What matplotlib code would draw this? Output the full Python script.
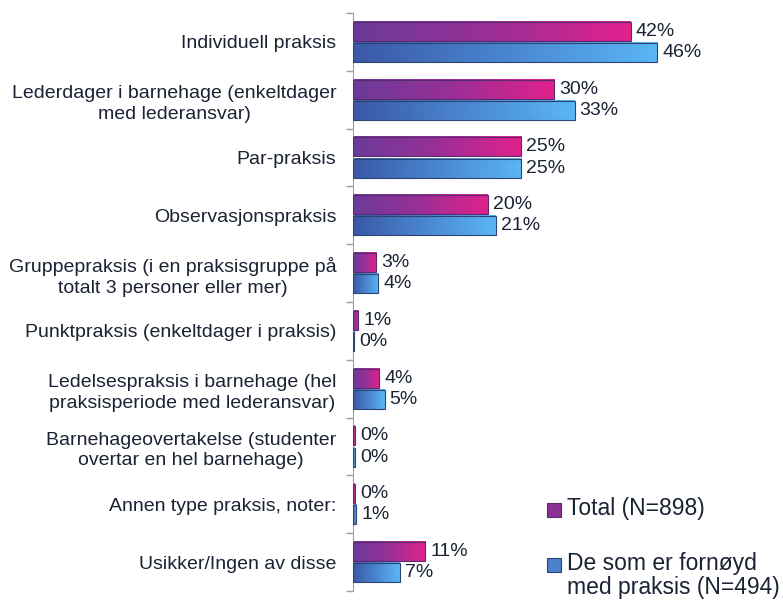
import numpy as np
import matplotlib.pyplot as plt
from matplotlib.colors import LinearSegmentedColormap
from matplotlib.patches import Rectangle

plt.rcParams['font.family'] = ['Liberation Sans', 'DejaVu Sans']

# kategorier (ovenfra og ned)
categories = [
    "Individuell praksis",
    "Lederdager i barnehage (enkeltdager\nmed lederansvar)",
    "Par-praksis",
    "Observasjonspraksis",
    "Gruppepraksis (i en praksisgruppe på\ntotalt 3 personer eller mer)",
    "Punktpraksis (enkeltdager i praksis)",
    "Ledelsespraksis i barnehage (hel\npraksisperiode med lederansvar)",
    "Barnehageovertakelse (studenter\novertar en hel barnehage)",
    "Annen type praksis, noter:",
    "Usikker/Ingen av disse",
]

# prosent, slik de står på etikettene
total_labels = [42, 30, 25, 20, 3, 1, 4, 0, 0, 11]
fornoyd_labels = [46, 33, 25, 21, 4, 0, 5, 0, 1, 7]

# stolpelengder lest av bildet (ikke avrundet)
total_vals = [42.0, 30.4, 25.4, 20.4, 3.5, 0.8, 4.0, 0.3, 0.3, 10.9]
fornoyd_vals = [46.0, 33.5, 25.4, 21.6, 3.8, 0.2, 4.8, 0.3, 0.5, 7.1]

legend_labels = ["Total (N=898)", "De som er fornøyd\nmed praksis (N=494)"]

pink_cmap = LinearSegmentedColormap.from_list("pink", ["#6a3b99", "#9a2f96", "#e2218c"])
blue_cmap = LinearSegmentedColormap.from_list("blue", ["#3a58a6", "#4a86d0", "#5ab6f4"])
text_color = "#1a2233"

fig = plt.figure(figsize=(7.83, 6.01), dpi=100)
ax = fig.add_axes([353 / 783, 1 - 591 / 601, 1 - 353 / 783, (591 - 13) / 601])

grad = np.linspace(0, 1, 256).reshape(1, -1)
bar_h = 0.33
gap = 0.035


def draw_bar(y0, y1, v, cmap, edge):
    ax.imshow(grad, extent=[0, v, y1, y0], aspect='auto', cmap=cmap,
              interpolation='bilinear', zorder=2)
    ax.add_patch(Rectangle((0, y0), v, y1 - y0, fill=False, edgecolor=edge,
                           linewidth=0.8, zorder=3))


for i in range(len(categories)):
    c = i + 0.5
    # Total øverst, fornøyde under
    y0 = c - bar_h - gap / 2
    draw_bar(y0, y0 + bar_h, total_vals[i], pink_cmap, "#5a2a70")
    ax.text(total_vals[i] + 0.75, y0 + bar_h / 2, f"{total_labels[i]}%",
            va='center', ha='left', fontsize=14, color=text_color)
    y0 = c + gap / 2
    draw_bar(y0, y0 + bar_h, fornoyd_vals[i], blue_cmap, "#2c4470")
    ax.text(fornoyd_vals[i] + 0.75, y0 + bar_h / 2, f"{fornoyd_labels[i]}%",
            va='center', ha='left', fontsize=14, color=text_color)

ax.set_xlim(0, 65)
ax.set_ylim(len(categories), 0)

ax.set_yticks(np.arange(len(categories)) + 0.5)
ax.set_yticklabels(categories, fontsize=14, color=text_color, ha='right',
                   multialignment='center', linespacing=1.3)
ax.tick_params(axis='y', which='major', length=0, pad=12)
ax.set_yticks(np.arange(len(categories) + 1), minor=True)
ax.tick_params(axis='y', which='minor', length=5, color='#a0a0a0', width=1)
ax.set_xticks([])

for side in ['top', 'right', 'bottom']:
    ax.spines[side].set_visible(False)
ax.spines['left'].set_color('#a0a0a0')
ax.set_facecolor('none')

# forklaring nede til høyre
leg_colors = ["#8a3096", "#4a80cc"]
leg_edges = ["#5a2a70", "#2c4470"]
leg_baseline = [515, 570]
line_step = 24
for lab, col, ed, yb in zip(legend_labels, leg_colors, leg_edges, leg_baseline):
    fig.patches.append(Rectangle((547 / 783, 1 - (yb + 2) / 601), 14 / 783, 14 / 601,
                                 transform=fig.transFigure, facecolor=col,
                                 edgecolor=ed, linewidth=0.8))
    for k, line in enumerate(lab.split("\n")):
        fig.text(567 / 783, 1 - (yb + k * line_step) / 601, line, fontsize=16.5,
                 color=text_color, va='baseline', ha='left')

fig.savefig("out.png", dpi=100)
